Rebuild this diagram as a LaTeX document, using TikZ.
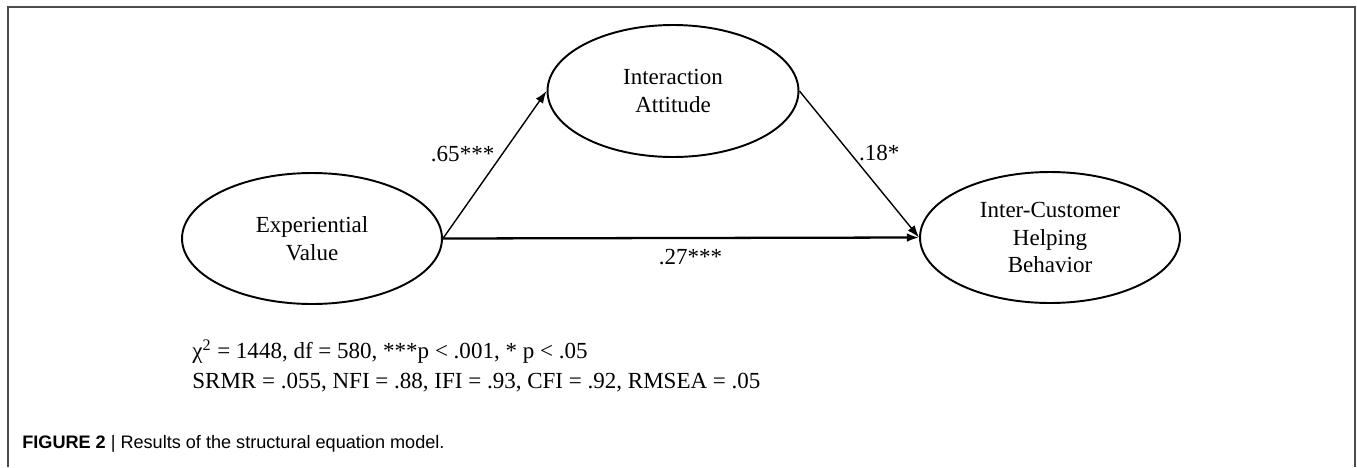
\documentclass[tikz,border=0pt]{standalone}
\usepackage{fontspec}
\setmainfont{Liberation Serif}
\setsansfont{Liberation Sans}
\usepackage{tikz}
\usetikzlibrary{shapes.geometric,arrows.meta}

\begin{document}
\begin{tikzpicture}[x=0.02cm,y=-0.02cm,
        latent/.style={ellipse,draw,line width=1.1pt,inner sep=0pt,
            minimum width=5.2cm,minimum height=2.62cm,align=center,
            font=\fontsize{13.1}{15.6}\selectfont},
        path/.style={-{Latex[length=7pt,width=5pt]},line width=0.8pt},
        coef/.style={inner sep=1pt,font=\fontsize{13.1}{15}\selectfont}]
        \useasboundingbox (0,0) rectangle (1357,467);
        \draw[line width=1.1pt,gray!60!black] (8,467)--(8,7)--(1355,7)--(1355,467);
        % latent variables
        \node[latent] (ev) at (312,238.5) {Experiential\\Value};
        \node[latent,minimum width=5.02cm,minimum height=2.64cm] (ia) at (673,91) {Interaction\\Attitude};
        \node[latent] (ichb) at (1050,237.5) {Inter-Customer\\Helping\\Behavior};
        % paths
        \draw[path] (ev.east)--(ia.west) node[coef,pos=0.57,left=3pt]{.65***};
        \draw[path] (ia.east)--(ichb.west) node[coef,pos=0.42,right=4pt]{.18*};
        \draw[path,line width=1.3pt] (ev.east)--(ichb.west) node[coef,pos=0.52,below=4.5pt]{.27***};
        % fit indices
        \node[anchor=base west,inner sep=0pt,font=\fontsize{13.1}{15}\selectfont] (fit1) at (192,358)
            {χ\textsuperscript{2} = 1448, df = 580, ***p < .001, * p < .05};
        \node[anchor=base west,inner sep=0pt,font=\fontsize{13.1}{15}\selectfont] (fit2) at (192,388)
            {SRMR = .055, NFI = .88, IFI = .93, CFI = .92, RMSEA = .05};
        \node[anchor=base west,inner sep=0pt,font=\sffamily\fontsize{10.3}{12}\selectfont] (cap) at (22,448)
            {\textbf{FIGURE 2} | Results of the structural equation model.};
    \end{tikzpicture}
\end{document}
